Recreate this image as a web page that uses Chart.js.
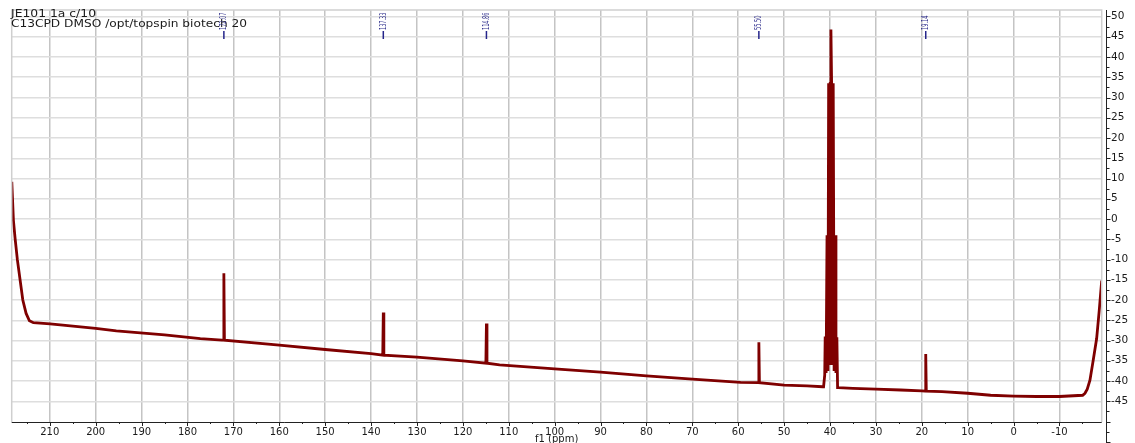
<!DOCTYPE html>
<html><head><meta charset="utf-8">
<script src="https://cdn.jsdelivr.net/npm/chart.js@4.4.1/dist/chart.umd.min.js"></script>
<style>html,body{margin:0;padding:0;background:#fff;overflow:hidden}canvas{display:block}</style>
</head><body>
<canvas id="c" width="1135" height="443"></canvas>
<script>
// ---- text ----
const titleLines = ['JE101 1a c/10', 'C13CPD DMSO /opt/topspin biotech 20'];
const xTitle = 'f1 (ppm)';
// ---- axes ----
const xTicks = [210, 200, 190, 180, 170, 160, 150, 140, 130, 120, 110, 100, 90, 80, 70, 60, 50, 40, 30, 20, 10, 0, -10];
const yTicks = [50, 45, 40, 35, 30, 25, 20, 15, 10, 5, 0, -5, -10, -15, -20, -25, -30, -35, -40, -45];
const xRange = [-19.2, 218.3];
const yRange = [-50.1, 51.6];
// ---- baseline of the spectrum (ppm, intensity) ----
const baselinePpm = [218.28, 217.93, 217.56, 217.06, 215.88, 215.16, 214.44, 213.57, 209.93, 200, 195.5, 185, 177.2, 172.5, 160, 150, 140, 130, 120, 112, 100, 90, 80, 70, 59.5, 50, 45, 41.6, 38.2, 35, 30, 24.6, 20, 15.6, 10, 5, 0, -5, -10, -15.05, -15.55, -16.05, -16.64, -17.36, -18.1, -18.67, -19.2];
const baselineVal = [9.2, -0.25, -4.8, -10.1, -20.0, -23.3, -25.1, -25.6, -25.9, -27.0, -27.6, -28.6, -29.5, -29.9, -31.1, -32.2, -33.2, -34.1, -35.0, -36.0, -37.0, -37.8, -38.7, -39.5, -40.3, -41.0, -41.2, -41.4, -41.6, -41.8, -42.0, -42.2, -42.4, -42.6, -43.0, -43.5, -43.7, -43.8, -43.8, -43.5, -43.0, -42.0, -39.8, -34.8, -29.5, -22.5, -15.2];
// ---- picked peaks ----
const peakPpm = [172.07, 137.33, 114.86, 55.50, 19.14];
const peakTop = [-13.4, -23.1, -25.8, -30.4, -33.3];
const peakFoot = [-29.9, -33.6, -35.6, -40.4, -42.5];
const peakLabels = ['172.07', '137.33', '114.86', '55.50', '19.14'];
// ---- DMSO-d6 solvent multiplet ----
const dmsoPpm = [41.4, 41.15, 41.05, 40.85, 40.65, 40.45, 40.3, 40.1, 39.95, 39.8, 39.65, 39.5, 39.3, 39.1, 38.9, 38.7, 38.5, 38.35];
const dmsoVal = [-41.4, -38.5, -29.0, -38.0, -4.0, -37.5, 33.5, -36.0, 33.5, 46.8, 33.5, -36.0, 33.5, -37.5, -4.0, -38.0, -29.2, -41.6];

// build the point list
const pts = [];
baselinePpm.forEach((p, i) => pts.push({x: p, y: baselineVal[i]}));
peakPpm.forEach((p, i) => {
  pts.push({x: p + 0.12, y: peakFoot[i]});
  pts.push({x: p, y: peakTop[i]});
  pts.push({x: p - 0.12, y: peakFoot[i]});
});
dmsoPpm.forEach((p, i) => pts.push({x: p, y: dmsoVal[i]}));
pts.sort((a, b) => b.x - a.x);

function drawScaledText(ctx, str, x, y, font, align, sx) {
  ctx.save();
  ctx.font = font;
  ctx.translate(x, y);
  ctx.scale(sx, 1);
  ctx.textAlign = align;
  ctx.fillText(str, 0, 0);
  ctx.restore();
}

const deco = {
  id: 'deco',
  afterDraw(chart) {
    const {ctx, chartArea: a, scales: {x, y}} = chart;
    ctx.save();
    // frame (light)
    ctx.strokeStyle = '#cfcfcf';
    ctx.lineWidth = 1.5;
    ctx.beginPath();
    ctx.moveTo(a.left, a.bottom); ctx.lineTo(a.left, a.top); ctx.lineTo(a.right, a.top); ctx.lineTo(a.right, a.bottom);
    ctx.stroke();

    // x axis
    ctx.strokeStyle = '#222';
    ctx.lineWidth = 1;
    ctx.beginPath();
    ctx.moveTo(a.left, a.bottom + 0.5); ctx.lineTo(a.right, a.bottom + 0.5);
    ctx.stroke();
    ctx.beginPath();
    for (let v = -15; v <= 215; v += 5) {
      const px = Math.round(x.getPixelForValue(v)) + 0.5;
      if (px < a.left || px > a.right) continue;
      const len = (v % 10 === 0) ? 4 : 2;
      ctx.moveTo(px, a.bottom); ctx.lineTo(px, a.bottom + len);
    }
    ctx.stroke();
    ctx.fillStyle = '#1a1a1a';
    ctx.textBaseline = 'middle';
    xTicks.forEach(v => {
      drawScaledText(ctx, String(v), x.getPixelForValue(v), 432.5, '10px "DejaVu Sans"', 'center', 1.0);
    });
    drawScaledText(ctx, xTitle, (a.left + a.right) / 2, 439.5, '10px "DejaVu Sans"', 'center', 1.0);

    // right axis
    const ax = 1106.5;
    ctx.beginPath();
    ctx.moveTo(ax, a.top); ctx.lineTo(ax, 443);
    ctx.stroke();
    ctx.beginPath();
    for (let v = -57.5; v <= 52.5; v += 2.5) {
      const py = Math.round(y.getPixelForValue(v)) + 0.5;
      if (py < a.top || py > 443) continue;
      const len = (Math.abs(v % 5) < 1e-6) ? 4 : 3;
      ctx.moveTo(ax, py); ctx.lineTo(ax + len, py);
    }
    ctx.stroke();
    yTicks.forEach(v => {
      drawScaledText(ctx, String(v), 1111, y.getPixelForValue(v), '10px "DejaVu Sans"', 'left', 1.05);
    });

    // title text top-left
    ctx.textBaseline = 'alphabetic';
    ctx.font = '10px "DejaVu Sans"';
    const targets = [85, 236];
    titleLines.forEach((t, i) => {
      const w = ctx.measureText(t).width;
      drawScaledText(ctx, t, 11, 17 + i * 10, '10px "DejaVu Sans"', 'left', targets[i] / w);
    });

    // peak labels
    ctx.fillStyle = '#2e2e8c';
    ctx.strokeStyle = '#24248a';
    ctx.lineWidth = 1.5;
    peakPpm.forEach((p, i) => {
      const px = x.getPixelForValue(p);
      ctx.beginPath();
      ctx.moveTo(px, 31); ctx.lineTo(px, 39);
      ctx.stroke();
      ctx.save();
      ctx.translate(px, 30);
      ctx.rotate(-Math.PI / 2);
      ctx.font = '8.5px "DejaVu Sans"';
      const w = ctx.measureText(peakLabels[i]).width;
      const target = peakLabels[i].length * 2.9;
      ctx.scale(target / w, 1);
      ctx.textAlign = 'left';
      ctx.textBaseline = 'middle';
      ctx.fillText(peakLabels[i], 0, 0);
      ctx.restore();
    });
    ctx.restore();
  }
};

new Chart(document.getElementById('c'), {
  type: 'line',
  data: {
    datasets: [{
      data: pts,
      borderColor: '#7f0000',
      borderWidth: 2.8,
      pointRadius: 0,
      tension: 0,
      fill: false
    }]
  },
  options: {
    responsive: false,
    animation: false,
    devicePixelRatio: 1,
    parsing: true,
    layout: {padding: {left: 11.7, top: 10, right: 0, bottom: 0}},
    plugins: {legend: {display: false}, tooltip: {enabled: false}},
    scales: {
      x: {
        type: 'linear',
        reverse: true,
        min: xRange[0],
        max: xRange[1],
        afterBuildTicks: s => { s.ticks = xTicks.map(v => ({value: v})); },
        afterFit: s => { s.height = 21; },
        ticks: {display: false},
        grid: {color: '#c4c4c4', lineWidth: 1.5, tickLength: 0, drawTicks: false},
        border: {display: false}
      },
      y: {
        type: 'linear',
        position: 'right',
        min: yRange[0],
        max: yRange[1],
        afterBuildTicks: s => { s.ticks = yTicks.map(v => ({value: v})); },
        afterFit: s => { s.width = 33.3; },
        ticks: {display: false},
        grid: {color: '#dedede', lineWidth: 1.5, tickLength: 0, drawTicks: false},
        border: {display: false}
      }
    }
  },
  plugins: [deco]
});
</script>
</body></html>
